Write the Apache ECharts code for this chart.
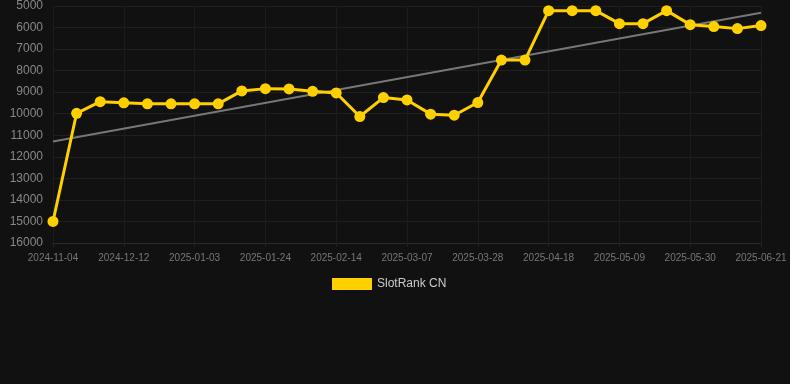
<!DOCTYPE html>
<html>
<head>
<meta charset="utf-8">
<script src="https://cdn.jsdelivr.net/npm/echarts@6/dist/echarts.min.js"></script>
<style>
  html, body { margin: 0; padding: 0; background: #111111; }
  #chart { width: 790px; height: 384px; }
</style>
</head>
<body>
<div id="chart"></div>
<script>
const dates = [
  '2024-11-04', '2024-11-22', '2024-12-01', '2024-12-12', '2024-12-19', '2024-12-26',
  '2025-01-03', '2025-01-10', '2025-01-17', '2025-01-24', '2025-01-31', '2025-02-07',
  '2025-02-14', '2025-02-21', '2025-02-28', '2025-03-07', '2025-03-14', '2025-03-21',
  '2025-03-28', '2025-04-04', '2025-04-11', '2025-04-18', '2025-04-25', '2025-05-02',
  '2025-05-09', '2025-05-16', '2025-05-23', '2025-05-30', '2025-06-06', '2025-06-13',
  '2025-06-21'
]

const rankCN = [
  15000, 9980, 9440, 9495, 9540, 9540,
  9540, 9540, 8940, 8835, 8850, 8960,
  9035, 10130, 9250, 9360, 10020, 10070,
  9480, 7510, 7510, 5215, 5215, 5215,
  5820, 5820, 5215, 5865, 5955, 6050,
  5910
]

// trend line endpoints: [category index, rank]
const trend = [[0, 11285], [30, 5310]]

const chart = echarts.init(document.getElementById('chart'))

const option = {
  backgroundColor: '#111111',
  animation: false,
  grid: {
    left: 53,
    right: 29,
    top: 5,
    bottom: 141
  },
  legend: {
    data: ['SlotRank CN'],
    top: 273,
    left: 327,
    itemWidth: 40,
    itemHeight: 12,
    itemGap: 10,
    icon: 'rect',
    textStyle: { color: '#cccccc', fontSize: 12 }
  },
  xAxis: {
    type: 'category',
    data: dates,
    boundaryGap: false,
    axisLine: { lineStyle: { color: '#2a2a2a' } },
    axisTick: { show: true, interval: 2, length: 4, lineStyle: { color: '#222222' } },
    axisLabel: { color: '#777777', fontSize: 10, interval: 2, margin: 10 },
    splitLine: { show: true, interval: 2, lineStyle: { color: '#1c1c1c' } }
  },
  yAxis: {
    type: 'value',
    inverse: true,
    min: 5000,
    max: 16000,
    interval: 1000,
    axisLine: { show: false },
    axisTick: { show: false },
    axisLabel: { color: '#888888', fontSize: 12, margin: 10, formatter: v => String(v) },
    splitLine: { lineStyle: { color: '#1f1f1f' } }
  },
  series: [
    {
      name: 'SlotRank CN',
      type: 'line',
      data: rankCN,
      symbol: 'circle',
      symbolSize: 11,
      itemStyle: { color: '#FFD000' },
      lineStyle: { color: '#FFD000', width: 3 },
      z: 3
    },
    {
      name: 'trend',
      type: 'line',
      data: trend,
      symbol: 'none',
      lineStyle: { color: '#777777', width: 2 },
      z: 2
    }
  ]
}

chart.setOption(option)
</script>
</body>
</html>
